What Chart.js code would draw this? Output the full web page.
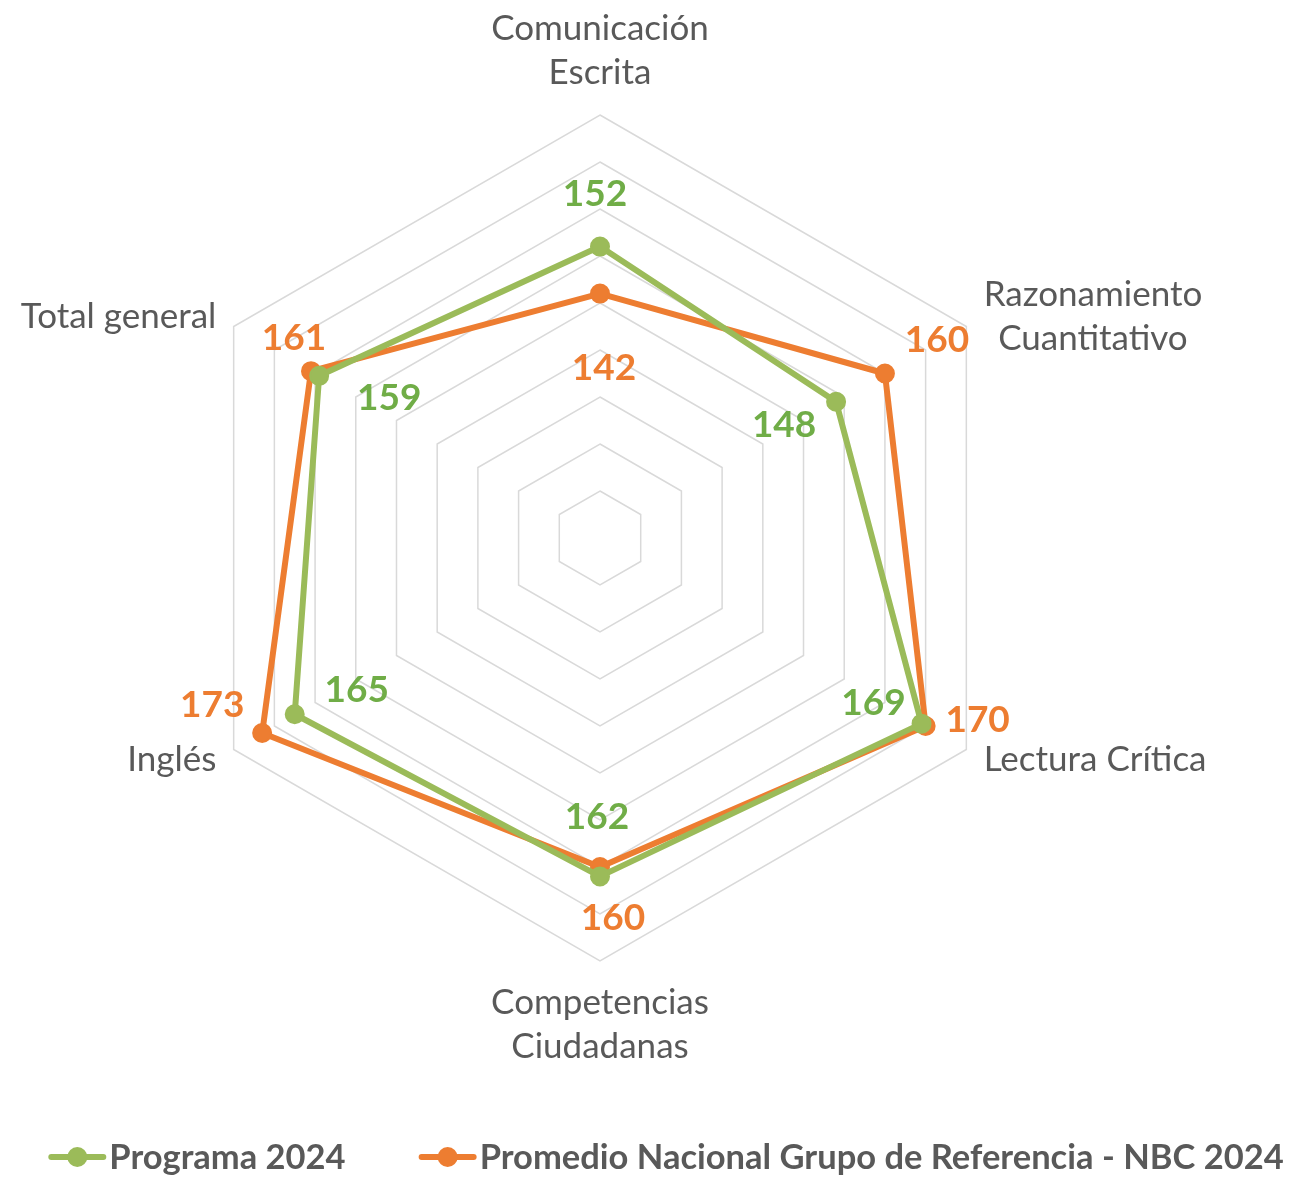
<!DOCTYPE html>
<html>
<head>
<meta charset="utf-8">
<script src="https://cdn.jsdelivr.net/npm/chart.js@4.4.1/dist/chart.umd.min.js"></script>
<style>
  html, body { margin: 0; padding: 0; background: #fff; }
  #wrap { width: 1293px; height: 1177px; }
</style>
</head>
<body>
<div id="wrap"><canvas id="radarChart" width="1293" height="1177"></canvas></div>
<script>
const categories = [
  ["Comunicación", "Escrita"],
  ["Razonamiento", "Cuantitativo"],
  ["Lectura Crítica"],
  ["Competencias", "Ciudadanas"],
  ["Inglés"],
  ["Total general"]
];
const programa2024 = [152, 148, 169, 162, 165, 159];
const promedioNacional = [142, 160, 170, 160, 173, 161];
const seriesNames = ["Programa 2024", "Promedio Nacional Grupo de Referencia - NBC 2024"];
const scaleMin = 90;
const scaleMax = 180;
const scaleStep = 10;

// where each value label sits relative to its point (px)
const programaLabelOffsets = [[-5, -53], [-52, 23], [-48, -21], [-3, -59], [62, -24], [70, 22]];
const promedioLabelOffsets = [[4, 74], [52, -33], [52, -6], [13, 51], [-50, -28], [-17, -33]];

const GREEN_LINE = "#9bbb59";
const GREEN_TEXT = "#70ad47";
const ORANGE = "#ed7d31";
const GREY_TEXT = "#595959";
const FONT = "Lato, 'Open Sans', sans-serif";

const textPlugin = {
  id: "radarText",
  afterDatasetsDraw(chart) {
    const ctx = chart.ctx;
    const r = chart.scales.r;
    ctx.save();

    // category labels
    ctx.font = `35px ${FONT}`;
    ctx.fillStyle = GREY_TEXT;
    ctx.textBaseline = "middle";
    const lh = 44;
    categories.forEach((lines, i) => {
      const p = r.getPointPosition(i, r.drawingArea + 20);
      const dx = p.x - r.xCenter;
      const dy = p.y - r.yCenter;
      const blockH = lines.length * lh;
      const widths = lines.map((t) => ctx.measureText(t).width);
      const blockW = Math.max(...widths);
      let cx, top;
      if (Math.abs(dx) < 5) {
        cx = p.x;
        top = dy < 0 ? p.y - blockH : p.y;
      } else {
        cx = dx > 0 ? p.x + blockW / 2 : p.x - blockW / 2;
        top = p.y - blockH / 2;
      }
      ctx.textAlign = "center";
      lines.forEach((t, k) => ctx.fillText(t, cx, top + lh * k + lh / 2));
    });

    // value labels
    ctx.font = `bold 37px ${FONT}`;
    ctx.textAlign = "center";
    const specs = [
      { idx: 0, color: GREEN_TEXT, offs: programaLabelOffsets },
      { idx: 1, color: ORANGE, offs: promedioLabelOffsets }
    ];
    specs.forEach((s) => {
      const meta = chart.getDatasetMeta(s.idx);
      ctx.fillStyle = s.color;
      meta.data.forEach((pt, i) => {
        const v = chart.data.datasets[s.idx].data[i];
        ctx.fillText(String(v), pt.x + s.offs[i][0], pt.y + s.offs[i][1]);
      });
    });

    // legend
    ctx.font = `bold 34.5px ${FONT}`;
    ctx.textAlign = "left";
    const markW = 58, markGap = 3, itemGap = 73, legY = 1157;
    const items = chart.data.datasets.map((d) => ({
      label: d.label,
      color: d.borderColor,
      w: markW + markGap + ctx.measureText(d.label).width
    }));
    const total = items.reduce((a, it) => a + it.w, 0) + itemGap * (items.length - 1);
    let x = 666 - total / 2;
    items.forEach((it) => {
      ctx.strokeStyle = it.color;
      ctx.lineWidth = 6;
      ctx.lineCap = "round";
      ctx.beginPath();
      ctx.moveTo(x + 3, legY);
      ctx.lineTo(x + markW - 3, legY);
      ctx.stroke();
      ctx.fillStyle = it.color;
      ctx.beginPath();
      ctx.arc(x + markW / 2, legY, 10, 0, Math.PI * 2);
      ctx.fill();
      ctx.fillStyle = GREY_TEXT;
      ctx.fillText(it.label, x + markW + markGap, legY + 1);
      x += it.w + itemGap;
    });

    ctx.restore();
  }
};

function buildChart() {
  new Chart(document.getElementById("radarChart"), {
    type: "radar",
    data: {
      labels: categories,
      datasets: [
        {
          label: seriesNames[0],
          data: programa2024,
          borderColor: GREEN_LINE,
          backgroundColor: GREEN_LINE,
          pointBackgroundColor: GREEN_LINE,
          pointBorderColor: GREEN_LINE,
          borderWidth: 6,
          pointRadius: 9,
          pointBorderWidth: 2,
          fill: false
        },
        {
          label: seriesNames[1],
          data: promedioNacional,
          borderColor: ORANGE,
          backgroundColor: ORANGE,
          pointBackgroundColor: ORANGE,
          pointBorderColor: ORANGE,
          borderWidth: 6,
          pointRadius: 9,
          pointBorderWidth: 2,
          fill: false
        }
      ]
    },
    options: {
      responsive: false,
      animation: false,
      layout: { padding: { top: 115, left: 177, right: 270, bottom: 216 } },
      plugins: { legend: { display: false }, tooltip: { enabled: false } },
      elements: { line: { tension: 0, borderJoinStyle: "round" } },
      scales: {
        r: {
          min: scaleMin,
          max: scaleMax,
          ticks: { display: false, stepSize: scaleStep },
          grid: { color: "#d9d9d9", lineWidth: 1.5 },
          angleLines: { display: false },
          pointLabels: { display: false }
        }
      }
    },
    plugins: [textPlugin]
  });
}

Promise.all([
  document.fonts.load(`35px Lato`),
  document.fonts.load(`bold 37px Lato`)
]).then(buildChart, buildChart);
</script>
</body>
</html>
